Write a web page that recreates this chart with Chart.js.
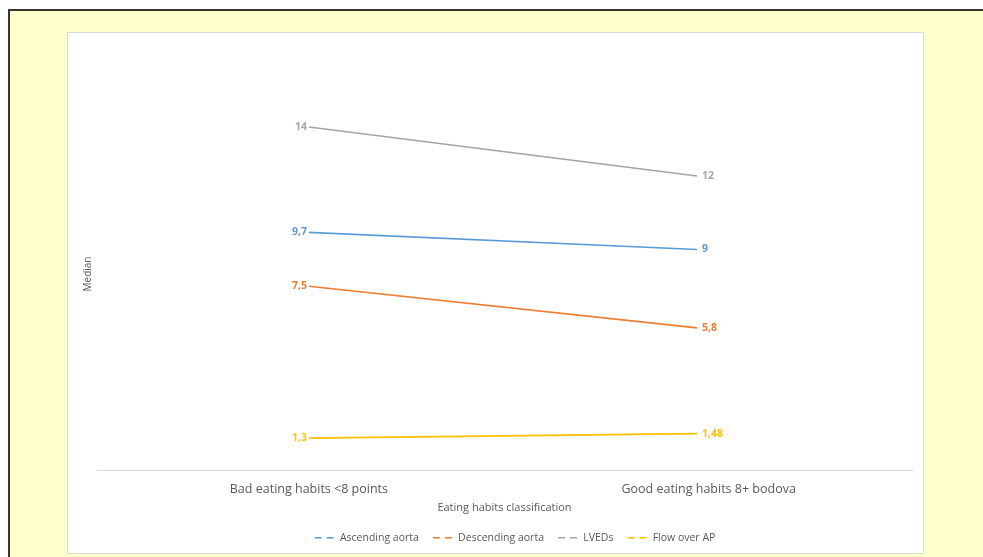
<!DOCTYPE html>
<html>
<head>
<meta charset="utf-8">
<title>Median by eating habits classification</title>
<script src="https://cdn.jsdelivr.net/npm/chart.js@4/dist/chart.umd.min.js"></script>
<style>
  html, body { margin: 0; padding: 0; }
  body { width: 983px; height: 557px; overflow: hidden; background: #ffffff; position: relative; }
  .page {
    position: absolute; left: 8px; top: 9px; right: 0; bottom: 0;
    background: #FFFFCC;
    border-top: 2px solid #3b3434;
    border-left: 2px solid #3b3434;
  }
  .frame {
    position: absolute; left: 67px; top: 32px; width: 855px; height: 520px;
    background: #ffffff; border: 1px solid #d9d9d9;
  }
  canvas { display: block; }
</style>
</head>
<body>
<div class="page"></div>
<div class="frame"><canvas id="chart" width="855" height="520"></canvas></div>
<script>
// Categories on the horizontal axis
const categories = ['Bad eating habits <8 points', 'Good eating habits 8+ bodova'];

// Median values per series
const ascendingAorta  = [9.7, 9];
const descendingAorta = [7.5, 5.8];
const lveds           = [14, 12];
const flowOverAP      = [1.3, 1.48];

const seriesNames  = ['Ascending aorta', 'Descending aorta', 'LVEDs', 'Flow over AP'];
const seriesValues = [ascendingAorta, descendingAorta, lveds, flowOverAP];
const seriesColors = ['#5B9BD5', '#ED7D31', '#A5A5A5', '#FFC000'];

const textGrey = '#595959';
const fontFamily = '"Open Sans", "Liberation Sans", sans-serif';

const toPoints = values => values.map((v, i) => ({ x: i, y: v }));
const formatValue = v => String(v).replace('.', ',');

// Value labels: left of the first point, right of the last point
const valueLabels = {
  id: 'valueLabels',
  afterDatasetsDraw(chart) {
    const ctx = chart.ctx;
    ctx.save();
    ctx.font = 'bold 10.5px ' + fontFamily;
    ctx.textBaseline = 'middle';
    chart.data.datasets.forEach((ds, di) => {
      const meta = chart.getDatasetMeta(di);
      meta.data.forEach((pt, i) => {
        const val = ds.data[i].y;
        ctx.fillStyle = ds.borderColor;
        if (i === 0) {
          ctx.textAlign = 'right';
          ctx.fillText(formatValue(val), pt.x - 2, pt.y);
        } else {
          ctx.textAlign = 'left';
          ctx.fillText(formatValue(val), pt.x + 5, pt.y);
        }
      });
    });
    ctx.restore();
  }
};

// Legend row sits a little right of the canvas centre
const legendShift = {
  id: 'legendShift',
  afterLayout(chart) {
    if (chart.legend) chart.legend.left += 50;
  }
};

const datasets = seriesNames.map((name, k) => ({
  label: name,
  data: toPoints(seriesValues[k]),
  borderColor: seriesColors[k],
  backgroundColor: seriesColors[k],
  borderWidth: 1.75,
  pointRadius: 0,
  pointHoverRadius: 0,
  tension: 0
}));

const CHART_LEFT = 29;
const CHART_BOTTOM = 437;

new Chart(document.getElementById('chart'), {
  type: 'line',
  data: { datasets },
  plugins: [valueLabels, legendShift],
  options: {
    responsive: false,
    animation: false,
    events: [],
    layout: { padding: { top: 45, right: 11, left: 0, bottom: 0 } },
    scales: {
      x: {
        type: 'linear',
        min: -0.546,
        max: 1.554,
        grid: { display: false, drawTicks: false },
        border: { display: true, color: '#d9d9d9', width: 1 },
        afterBuildTicks(scale) {
          scale.ticks = [{ value: 0 }, { value: 1.03 }];
        },
        ticks: {
          autoSkip: false,
          maxRotation: 0,
          padding: 12,
          color: textGrey,
          font: { family: fontFamily, size: 12.5 },
          callback: (value, index) => categories[index]
        },
        title: {
          display: true,
          text: 'Eating habits classification',
          color: textGrey,
          font: { family: fontFamily, size: 11 },
          padding: { top: 0, bottom: 4 }
        },
        afterFit(scale) {
          const legendH = scale.chart.legend ? scale.chart.legend.height : 0;
          scale.height = scale.chart.height - CHART_BOTTOM - legendH;
        }
      },
      y: {
        min: 0,
        max: 16,
        grid: { display: false, drawTicks: false },
        border: { display: false },
        ticks: { display: false },
        title: {
          display: true,
          text: 'Median',
          color: textGrey,
          font: { family: fontFamily, size: 10 },
          padding: { top: 14, bottom: 0 }
        },
        afterFit(scale) {
          scale.width = CHART_LEFT;
        }
      }
    },
    plugins: {
      tooltip: { enabled: false },
      legend: {
        position: 'bottom',
        labels: {
          usePointStyle: true,
          pointStyle: 'line',
          pointStyleWidth: 20,
          padding: 14,
          color: textGrey,
          font: { family: fontFamily, size: 10.5 },
          generateLabels(chart) {
            const items = Chart.defaults.plugins.legend.labels.generateLabels(chart);
            return items.map(it => Object.assign(it, { lineDash: [7, 5], lineWidth: 1.5, fontColor: textGrey }));
          }
        }
      }
    }
  }
});
</script>
</body>
</html>
